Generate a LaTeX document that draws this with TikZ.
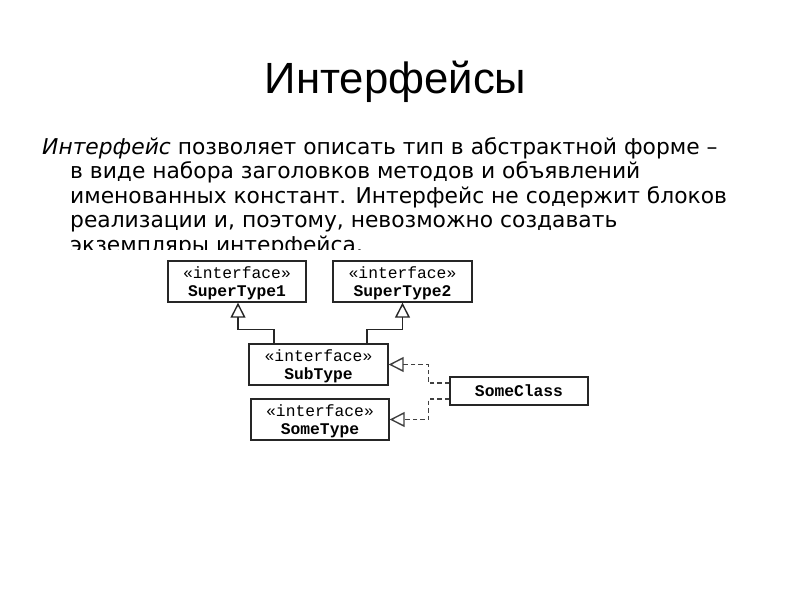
\documentclass[tikz,border=0pt]{standalone}
\usepackage{fontspec}
\setmainfont{DejaVu Sans}
\newfontfamily\titlefont{Liberation Sans}
\newfontfamily\monof{Liberation Mono}
\usetikzlibrary{arrows.meta}
\newcommand{\topstrut}{\rule{0pt}{16pt}}
\begin{document}
\begin{tikzpicture}[x=1pt,y=-1pt,
  title/.style={font=\titlefont\fontsize{43.7}{48}\selectfont, anchor=base, inner sep=0pt},
  bodyline/.style={font=\fontsize{21.8}{24}\selectfont, anchor=base west, inner sep=0pt},
  umlbox/.style={draw=black!85, line width=1.4pt, fill=white, minimum width=138pt, minimum height=41pt,
    inner sep=0pt, align=center, font=\monof\fontsize{16.3}{18}\selectfont},
  clsbox/.style={umlbox, minimum height=28pt},
  gen/.style={draw=black!85, line width=1.4pt, -{Triangle[open, length=15pt, width=15pt]}},
  real/.style={draw=black!75, line width=1.4pt, dash pattern=on 4.5pt off 3pt, -{Triangle[open, length=15pt, width=15pt]}}
]
\useasboundingbox (0,0) rectangle (794,595);
\fill[white] (0,0) rectangle (794,595);
\node[title] (t) at (395.5,93) {Интерфейсы};
\node[bodyline] (l1) at (42,154) {\itshape Интерфейс\upshape{} позволяет описать тип в абстрактной форме –};
\node[bodyline] (l2) at (70,178.5) {в виде набора заголовков методов и объявлений};
\node[bodyline] (l3) at (70,203) {именованных констант. Интерфейс не содержит блоков};
\node[bodyline] (l4) at (70,227.5) {реализации и, поэтому, невозможно создавать};
\node[bodyline] (l5) at (70,252) {экземпляры интерфейса.};
\fill[white] (40,250) rectangle (620,470);
\node[umlbox] (st1) at (237,281.5) {\topstrut«interface»\\\textbf{SuperType1}};
\node[umlbox, minimum width=139pt] (st2) at (402.5,281.5) {\topstrut«interface»\\\textbf{SuperType2}};
\node[umlbox, minimum width=139pt] (sub) at (318.5,364.5) {\topstrut«interface»\\\textbf{SubType}};
\node[umlbox] (some) at (320,419.5) {\topstrut«interface»\\\textbf{SomeType}};
\node[clsbox] (sc) at (519,391) {\textbf{SomeClass}};
\draw[gen] ([xshift=-44.5pt]sub.north) -- ++(0,-14) -| ([xshift=1pt]st1.south);
\draw[gen] ([xshift=48.5pt]sub.north) -- ++(0,-14) -| (st2.south);
\draw[real] ([yshift=8pt]sc.west) -- ++(-21,0) |- (sub.east);
\draw[real] ([yshift=-8pt]sc.west) -- ++(-21,0) |- (some.east);
\end{tikzpicture}
\end{document}
